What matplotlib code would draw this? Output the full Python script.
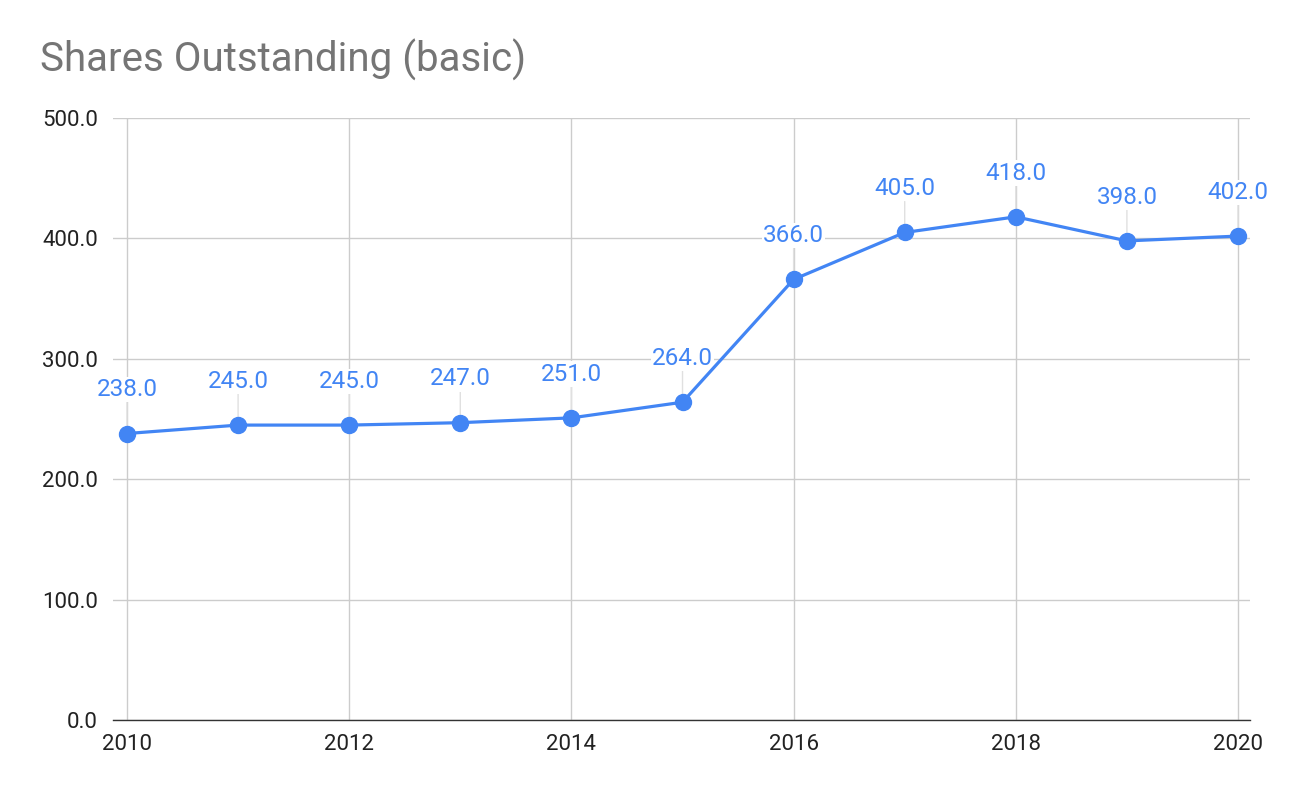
import matplotlib.pyplot as plt
from matplotlib.ticker import FuncFormatter

plt.rcParams['font.family'] = ['Roboto', 'DejaVu Sans']

# data
years = [2010, 2011, 2012, 2013, 2014, 2015, 2016, 2017, 2018, 2019, 2020]
shares = [238.0, 245.0, 245.0, 247.0, 251.0, 264.0, 366.0, 405.0, 418.0, 398.0, 402.0]
x_ticks = [2010, 2012, 2014, 2016, 2018, 2020]
y_ticks = [0, 100, 200, 300, 400, 500]

blue = '#4285F4'

fig = plt.figure(figsize=(12.9, 7.98), dpi=100)
ax = fig.add_axes([0.0876, 0.0977, 0.8814, 0.7543])

ax.plot(years, shares, color=blue, lw=2.3, marker='o', ms=11.5, zorder=4, clip_on=False)

# value labels with small leader lines (under the line)
for x, y in zip(years, shares):
    ax.annotate(f'{y:.1f}', xy=(x, y), xytext=(0, 31.5), textcoords='offset points',
                ha='center', va='center', fontsize=17.5, color=blue, zorder=3,
                bbox=dict(boxstyle='square,pad=0.05', fc='white', ec='none'),
                arrowprops=dict(arrowstyle='-', color='#e0e0e0', lw=1, shrinkA=0, shrinkB=6))

ax.set_xlim(2009.874, 2020.108)
ax.set_ylim(0, 500)
ax.set_xticks(x_ticks)
ax.set_yticks(y_ticks)
ax.yaxis.set_major_formatter(FuncFormatter(lambda v, p: f'{v:.1f}'))
ax.tick_params(length=0, labelsize=16, colors='#222222')
ax.tick_params(axis='y', pad=11)
ax.tick_params(axis='x', pad=10)
ax.grid(True, color='#cccccc', lw=1)
ax.set_axisbelow(True)
for s in ['top', 'right', 'left']:
    ax.spines[s].set_visible(False)
ax.spines['bottom'].set_color('#333333')
ax.spines['bottom'].set_linewidth(1)

fig.text(0.031, 0.925, 'Shares Outstanding (basic)', fontsize=29, color='#757575', va='center')

fig.savefig('out.png', dpi=100)
